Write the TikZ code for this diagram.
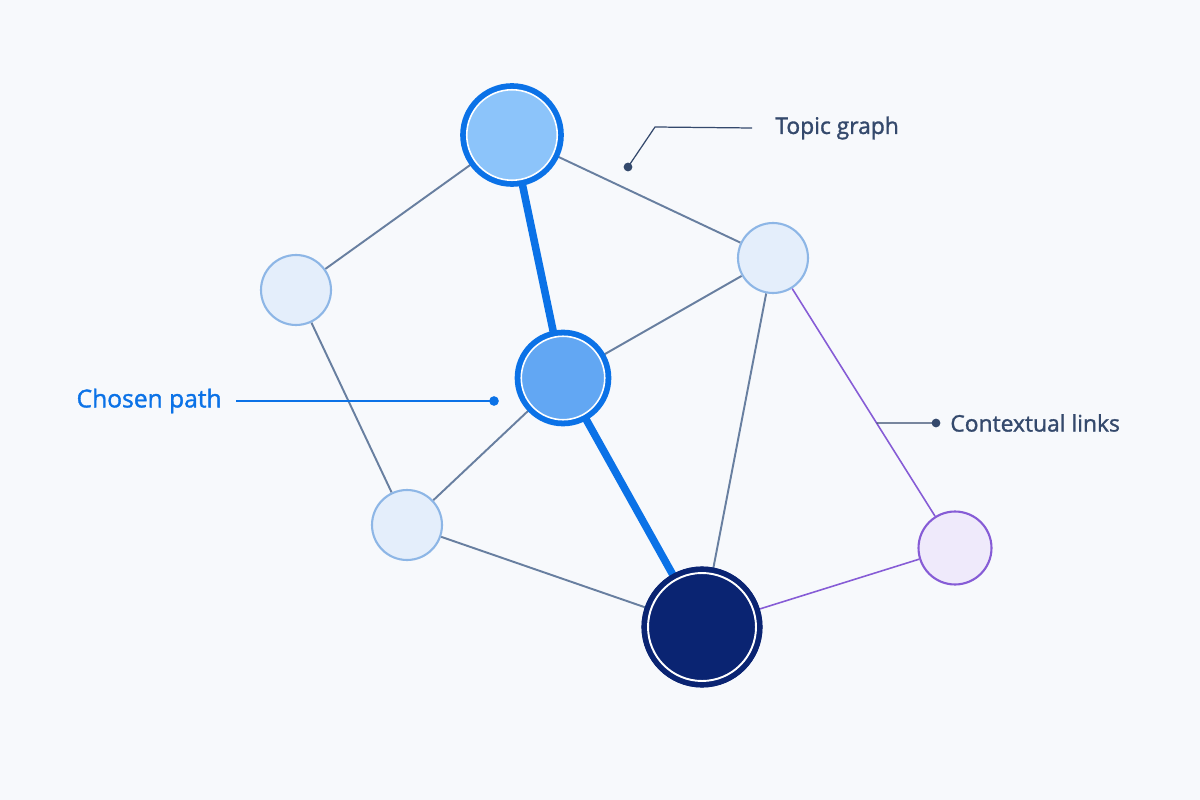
\documentclass[tikz,border=0pt]{standalone}
\usepackage{fontspec}
\setmainfont{Open Sans}
\newfontfamily\labelfont[FakeBold=1.4]{Open Sans}
\usetikzlibrary{positioning, backgrounds, calc}
\definecolor{paper}{RGB}{247,249,252}
\definecolor{edgegray}{RGB}{104,127,160}
\definecolor{pathblue}{RGB}{11,114,231}
\definecolor{topfill}{RGB}{140,196,250}
\definecolor{midfill}{RGB}{98,167,243}
\definecolor{softfill}{RGB}{228,238,251}
\definecolor{softline}{RGB}{141,182,230}
\definecolor{navy}{RGB}{10,36,114}
\definecolor{lilac}{RGB}{239,234,251}
\definecolor{violet}{RGB}{134,92,214}
\definecolor{slate}{RGB}{52,73,108}

\begin{document}
\begin{tikzpicture}[x=0.02cm, y=-0.02cm,
    edge/.style={draw=edgegray, line width=1.1pt},
    pathedge/.style={draw=pathblue, line width=4.3pt},
    ctxedge/.style={draw=violet, line width=0.9pt},
    soft/.style={circle, inner sep=0pt, fill=softfill, draw=softline, line width=1.2pt, minimum size=1.4cm},
    ringed/.style={circle, inner sep=0pt, draw=white, line width=0.9pt,
        preaction={draw=#1, line width=7.5pt}},
    dot/.style={circle, fill, inner sep=0pt, minimum size=5pt},
    lbl/.style={inner sep=0pt, font=\labelfont\fontsize{13}{15}\selectfont}]
    %\draw (0,0) grid[step=100] (1200,800);
    \useasboundingbox (0,0) rectangle (1200,800);

    % nodes of the graph
    \node[ringed=pathblue, fill=topfill, minimum size=1.81cm] (top) at (512,135) {};
    \node[ringed=pathblue, fill=midfill, minimum size=1.67cm,
        preaction={draw=pathblue, line width=6.5pt}] (mid) at (563,378) {};
    \node[ringed=navy, fill=navy, line width=1.1pt, minimum size=2.16cm,
        preaction={draw=navy, line width=7.2pt}] (bottom) at (702,627) {};
    \node[soft] (left) at (296,290) {};
    \node[soft] (right) at (773,258) {};
    \node[soft] (lower) at (407,525) {};
    \node[soft, fill=lilac, draw=violet, minimum size=1.46cm] (extra) at (955,548) {};

    \begin{scope}[on background layer]
        \fill[paper] (0,0) rectangle (1200,800);
        \foreach \a/\b in {top/left, top/right, left/lower, lower/mid,
                           lower/bottom, mid/right, right/bottom}
            \draw[edge] (\a) -- (\b);
        \draw[pathedge] (top) -- (mid);
        \draw[pathedge] (mid) -- (bottom);
        \draw[ctxedge] (right) -- (extra);
        \draw[ctxedge] (bottom) -- (extra);
    \end{scope}

    % annotations
    \node[lbl, text=slate, anchor=west] (topic) at (775,128) {Topic graph};
    \node[dot, slate] (topicdot) at (628,167) {};
    \coordinate (topicbend) at (655,127);
    \draw[slate, line width=0.7pt] (topicdot.center) -- (topicbend) -- ([xshift=-0.46cm]topic.west);

    \node[lbl, text=pathblue, anchor=east, font=\labelfont\fontsize{14}{16}\selectfont] (chosen) at (222,401) {Chosen path};
    \node[dot, pathblue, minimum size=5.5pt] (chosendot) at (494,401) {};
    \draw[pathblue, line width=1.1pt] ([xshift=0.28cm]chosen.east) -- (chosendot.center);

    \node[lbl, text=slate, anchor=west] (context) at (950,423) {Contextual links};
    \node[dot, slate] (contextdot) at (936,423) {};
    \coordinate (contextfoot) at ($(right.center)!0.569!(extra.center)$);
    \draw[slate, line width=0.7pt] (contextfoot) -- (contextdot.center);
\end{tikzpicture}
\end{document}
